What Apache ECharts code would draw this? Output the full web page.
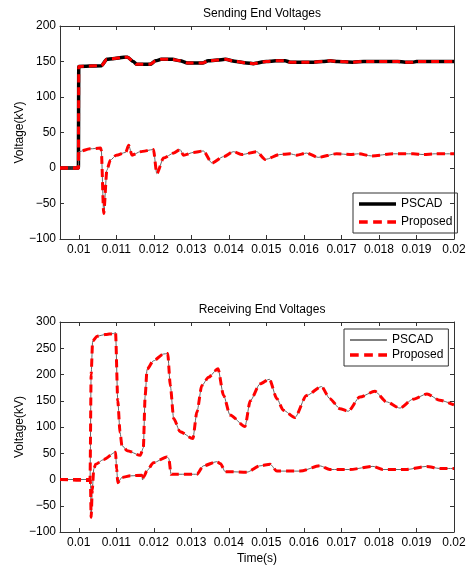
<!DOCTYPE html>
<html>
<head>
<meta charset="utf-8">
<script src="https://cdn.jsdelivr.net/npm/echarts@6/dist/echarts.min.js"></script>
<style>
  html, body { margin: 0; padding: 0; background: #fff; }
  #chart { width: 471px; height: 566px; }
</style>
</head>
<body>
<div id="chart"></div>
<script>
// tick positions (s)
var xTicks = [0.01, 0.011, 0.012, 0.013, 0.014, 0.015, 0.016, 0.017, 0.018, 0.019, 0.02];

// sending end, upper curve
var sendHighT = [0.0095, 0.00999, 0.01, 0.0106, 0.01075, 0.0109, 0.0112, 0.0113, 0.01145, 0.01155, 0.0119, 0.01205, 0.0122, 0.0125, 0.0127, 0.0129, 0.0133, 0.01345, 0.0137, 0.0139, 0.0142, 0.01447, 0.01465, 0.015, 0.01526, 0.0155, 0.01564, 0.0158, 0.01626, 0.0165, 0.0167, 0.0169, 0.0173, 0.0176, 0.018, 0.0185, 0.0187, 0.0189, 0.019, 0.0195, 0.02];
var sendHighV = [0, 0, 143, 144, 153, 154, 156, 156, 150, 146, 146, 151, 153, 153, 151, 148, 148, 151, 152, 153, 150, 148, 147, 150, 151, 151, 149, 149, 149, 150, 151, 150, 149, 150, 150, 150, 149, 149, 150, 150, 150];

// sending end, lower curve
var sendLowT = [0.0095, 0.00999, 0.01, 0.0103, 0.01058, 0.0106, 0.010665, 0.01075, 0.01084, 0.011, 0.01125, 0.01133, 0.01142, 0.01164, 0.01199, 0.01208, 0.01226, 0.01253, 0.0127, 0.01279, 0.01306, 0.01332, 0.01355, 0.01386, 0.01412, 0.01435, 0.01474, 0.01497, 0.01536, 0.01563, 0.01581, 0.01607, 0.01638, 0.01687, 0.01723, 0.01745, 0.0178, 0.01838, 0.01891, 0.01918, 0.0195, 0.02];
var sendLowV = [0, 0, 23, 27, 28, 25, -64, -3, 11, 18, 22, 32, 18, 23, 26, -8, 14, 21, 26, 18, 22, 24, 7, 16, 23, 19, 23, 12, 19, 20, 18, 21, 15, 20, 19, 20, 17, 20, 20, 19, 20, 20];

// receiving end, upper curve
var recvHighT = [0.0095, 0.0103, 0.01033, 0.01037, 0.01049, 0.0107, 0.01093, 0.01098, 0.01104, 0.0111, 0.01115, 0.01129, 0.01164, 0.01172, 0.01177, 0.01182, 0.01199, 0.01226, 0.01237, 0.01244, 0.01253, 0.0127, 0.01304, 0.01315, 0.01328, 0.01346, 0.01371, 0.01386, 0.01403, 0.01443, 0.01457, 0.01483, 0.01508, 0.01528, 0.01545, 0.01576, 0.01607, 0.01647, 0.01669, 0.01696, 0.01718, 0.01749, 0.01789, 0.0182, 0.01856, 0.01891, 0.01928, 0.01962, 0.02];
var recvHighV = [0, 0, 200, 264, 273, 276, 278, 280, 150, 90, 65, 55, 46, 60, 160, 210, 226, 239, 240, 179, 116, 91, 78, 129, 179, 195, 211, 160, 123, 101, 150, 182, 191, 154, 132, 118, 160, 177, 154, 135, 130, 157, 168, 148, 136, 153, 163, 151, 142];

// receiving end, lower curve
var recvLowT = [0.0095, 0.01031, 0.01033, 0.01036, 0.0104, 0.01045, 0.01066, 0.01098, 0.01101, 0.01104, 0.01115, 0.01138, 0.01168, 0.0117, 0.01173, 0.01182, 0.01199, 0.01235, 0.0124, 0.01246, 0.01306, 0.01315, 0.01332, 0.01368, 0.01378, 0.0139, 0.01448, 0.01483, 0.0151, 0.01528, 0.0159, 0.01643, 0.01669, 0.01722, 0.01784, 0.0181, 0.01873, 0.01927, 0.01962, 0.02];
var recvLowV = [0, 0, -72, -20, 20, 29, 38, 52, 20, -6, 4, 7, 8, -1, 5, 17, 32, 43, 40, 10, 10, 10, 26, 34, 30, 15, 14, 26, 29, 16, 16, 26, 19, 19, 25, 19, 19, 25, 21, 21];
// proposed sits slightly below zero before the fault
var recvLowPropV = [0, -2, -72, -20, 20, 29, 38, 52, 20, -6, 4, 7, 8, -1, 5, 17, 32, 43, 40, 10, 10, 10, 26, 34, 30, 15, 14, 26, 29, 16, 16, 26, 19, 19, 25, 19, 19, 25, 21, 21];

function pairs(t, v) {
  return t.map(function (x, i) { return [x, v[i]]; });
}

var font = 'Liberation Sans, Arial, sans-serif';
var minus = function (v) { return String(v).replace('-', '\u2212'); };

// legend icons: plain line and dashed line
var iconThick = 'path://M0,0H37V3.5H0Z';
var iconThin = 'path://M0,0H36V1H0Z';
var iconDash = 'path://M0,0H8V3H0Z M13,0H21V3H13Z M26,0H34V3H26Z';

function xAx(grid, pos, showLabel, name) {
  return {
    type: 'value', gridIndex: grid, position: pos, min: 0.0095, max: 0.02,
    name: name || '', nameLocation: 'middle', nameGap: 21,
    nameTextStyle: { color: '#000', fontSize: 12, fontFamily: font },
    axisLine: { show: true, onZero: false, lineStyle: { color: '#333', width: 1 } },
    axisTick: { show: true, inside: true, length: 4, customValues: xTicks, lineStyle: { color: '#333' } },
    axisLabel: {
      show: showLabel, customValues: xTicks, color: '#000', fontSize: 12, fontFamily: font, margin: 5,
      formatter: function (v) { return String(parseFloat(v.toFixed(3))); }
    },
    splitLine: { show: false }
  };
}
function yAx(grid, pos, max, showLabel) {
  return {
    type: 'value', gridIndex: grid, position: pos, min: -100, max: max, interval: 50,
    name: showLabel ? 'Voltage(kV)' : '', nameLocation: 'middle', nameGap: 34, nameMoveOverlap: false,
    nameTextStyle: { color: '#000', fontSize: 12, fontFamily: font },
    axisLine: { show: true, onZero: false, lineStyle: { color: '#333', width: 1 } },
    axisTick: { show: true, inside: true, length: 4, lineStyle: { color: '#333' } },
    axisLabel: { show: showLabel, color: '#000', fontSize: 12, fontFamily: font, margin: 4, formatter: minus },
    splitLine: { show: false }
  };
}

function line(name, xi, yi, data, color, width, dash, z) {
  return {
    name: name, type: 'line', xAxisIndex: xi, yAxisIndex: yi, data: data,
    showSymbol: false, symbol: 'none', smooth: 0.25, smoothMonotone: 'x', z: z,
    lineStyle: { color: color, width: width, type: dash ? [8, 5] : 'solid' },
    itemStyle: { color: color }
  };
}

function legendBox(left, top, pscadIcon, gap) {
  return {
    orient: 'vertical', left: left, top: top, padding: [5, 5, 5, 6], itemGap: gap,
    itemWidth: 37, itemHeight: 12, borderColor: '#333', borderWidth: 1,
    textStyle: { color: '#000', fontSize: 12, fontFamily: font },
    selectedMode: false,
    data: [
      { name: 'PSCAD', icon: pscadIcon, itemStyle: { color: '#000' } },
      { name: 'Proposed', icon: iconDash, itemStyle: { color: '#ff0000' } }
    ]
  };
}

var chart = echarts.init(document.getElementById('chart'), null, { renderer: 'canvas' });
chart.setOption({
  animation: false,
  backgroundColor: '#fff',
  title: [
    { text: 'Sending End Voltages', left: 257, top: 3, textAlign: 'center',
      textStyle: { fontSize: 12, fontWeight: 'normal', color: '#000', fontFamily: font } },
    { text: 'Receiving End Voltages', left: 257, top: 299, textAlign: 'center',
      textStyle: { fontSize: 12, fontWeight: 'normal', color: '#000', fontFamily: font } }
  ],
  grid: [
    { left: 60, top: 26, width: 394, height: 213 },
    { left: 60, top: 322, width: 394, height: 213 }
  ],
  xAxis: [xAx(0, 'bottom', true), xAx(0, 'top', false), xAx(1, 'bottom', true, 'Time(s)'), xAx(1, 'top', false)],
  yAxis: [yAx(0, 'left', 200, true), yAx(0, 'right', 200, false), yAx(1, 'left', 300, true), yAx(1, 'right', 300, false)],
  legend: [legendBox(353, 193, iconThick, 6), legendBox(344, 329, iconThin, 3)],
  series: [
    line('PSCAD', 0, 0, pairs(sendHighT, sendHighV), '#000', 3.5, false, 2),
    line('PSCAD', 0, 0, pairs(sendLowT, sendLowV), '#666', 1, false, 2),
    line('Proposed', 0, 0, pairs(sendHighT, sendHighV), '#ff0000', 3, true, 3),
    line('Proposed', 0, 0, pairs(sendLowT, sendLowV), '#ff0000', 3, true, 3),
    line('PSCAD', 2, 2, pairs(recvHighT, recvHighV), '#666', 1, false, 2),
    line('PSCAD', 2, 2, pairs(recvLowT, recvLowV), '#666', 1, false, 2),
    line('Proposed', 2, 2, pairs(recvHighT, recvHighV), '#ff0000', 3, true, 3),
    line('Proposed', 2, 2, pairs(recvLowT, recvLowPropV), '#ff0000', 3, true, 3)
  ]
});
</script>
</body>
</html>
